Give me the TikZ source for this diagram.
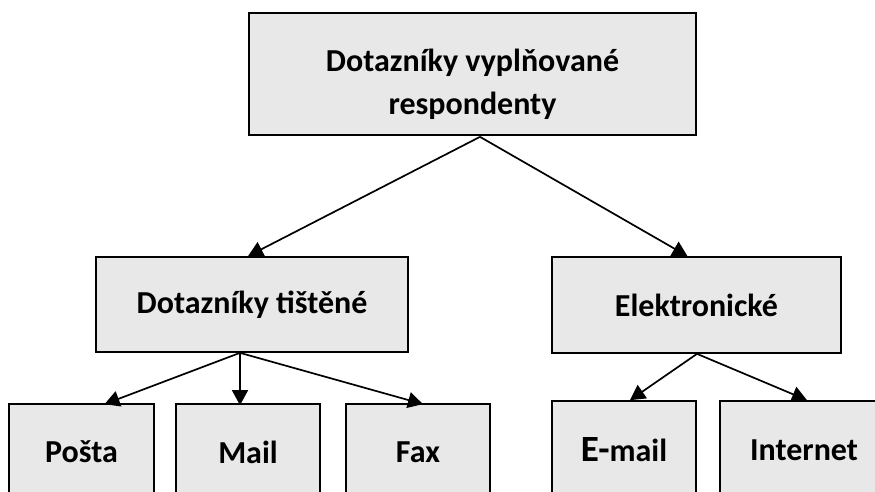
\documentclass[tikz,border=0pt]{standalone}
\usepackage{fontspec}
\setmainfont{Carlito}
\usetikzlibrary{arrows.meta}
\definecolor{boxfill}{HTML}{E8E8E8}
\tikzset{
  boxtext/.style={inner sep=0pt, font=\bfseries\fontsize{32}{43}\selectfont, align=center},
  box/.style={boxtext, draw=black, line width=1.7pt, fill=boxfill},
  link/.style={line width=1.7pt, -{Triangle[length=15pt,width=16pt]}}
}
\begin{document}
\begin{tikzpicture}[x=1pt,y=-1pt]
\useasboundingbox (0,0) rectangle (875,492);
\clip (0,0) rectangle (875,492);
% top level: the two text lines sit a little below the box centre
\node[box, minimum width=447pt, minimum height=122pt] (top) at (472.5,74) {};
\node[boxtext] (toptext) at ([yshift=-10pt]top.center)
  {Dotazníky vyplňované\\respondenty};
% second level
\node[box, minimum width=312pt, minimum height=95pt] (tisk) at (252,304.5)
  {Dotazníky tištěné};
\node[box, minimum width=289pt, minimum height=96pt] (elek) at (696.5,305)
  {Elektronické};
% third level (boxes run past the lower edge)
\node[box, minimum width=145pt, minimum height=96pt] (posta) at (81.5,452) {Pošta};
\node[box, minimum width=144pt, minimum height=96pt] (mail) at (248,452) {Mail};
\node[box, minimum width=144pt, minimum height=96pt] (fax) at (418,452) {Fax};
\node[box, minimum width=144pt, minimum height=98pt] (email) at (624,450)
  {{\fontsize{37}{40}\selectfont E-}mail};
\node[box, minimum width=168pt, minimum height=98pt] (inet) at (804,450) {Internet};
% fork points
\coordinate (ftop) at ([xshift=7.5pt,yshift=-1pt]top.south);
\coordinate (ftisk) at ([xshift=-12pt]tisk.south);
\coordinate (felek) at ([xshift=0.5pt]elek.south);
% connectors
\draw[link] (ftop) -- ([xshift=-4pt]tisk.north);
\draw[link] (ftop) -- ([xshift=-9pt]elek.north);
\draw[link] (ftisk) -- ([xshift=23pt,yshift=-1pt]posta.north);
\draw[link] (ftisk) -- ([xshift=-8pt,yshift=-2pt]mail.north);
\draw[link] (ftisk) -- ([xshift=5pt,yshift=-1pt]fax.north);
\draw[link] (felek) -- ([xshift=6pt]email.north);
\draw[link] (felek) -- ([xshift=3pt]inet.north);
\end{tikzpicture}
\end{document}
